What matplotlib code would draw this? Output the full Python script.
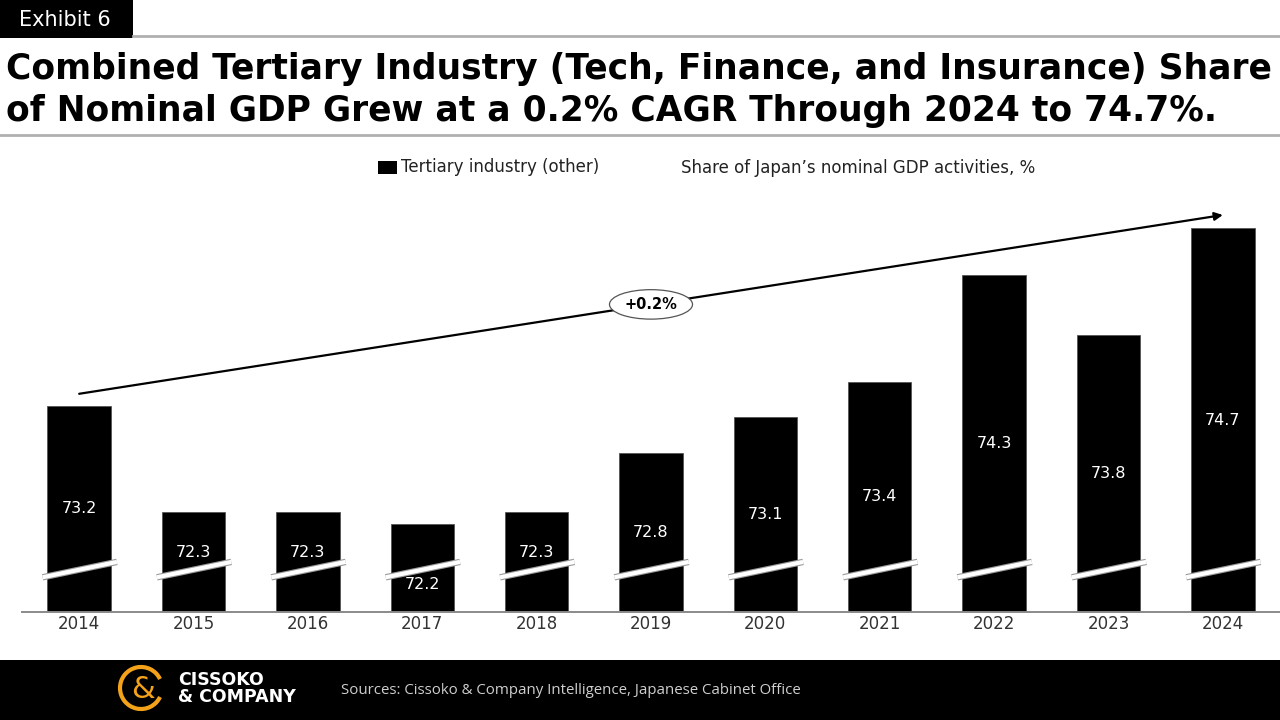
import matplotlib
matplotlib.use("Agg")
import matplotlib.pyplot as plt
from matplotlib.patches import Rectangle, Arc
from matplotlib.lines import Line2D

# ---- data -------------------------------------------------------------------
years = ["2014", "2015", "2016", "2017", "2018", "2019",
         "2020", "2021", "2022", "2023", "2024"]
share = [73.2, 72.3, 72.3, 72.2, 72.3, 72.8, 73.1, 73.4, 74.3, 73.8, 74.7]
cagr_label = "+0.2%"

title_lines = [
    "Combined Tertiary Industry (Tech, Finance, and Insurance) Share",
    "of Nominal GDP Grew at a 0.2% CAGR Through 2024 to 74.7%.",
]
legend_label = "Tertiary industry (other)"
unit_note = "Share of Japan\u2019s nominal GDP activities, %"
source_note = "Sources: Cissoko & Company Intelligence, Japanese Cabinet Office"

# ---- layout helpers ---------------------------------------------------------
W, H = 1280, 720
FONT = "DejaVu Sans"
Y_BOTTOM = 71.457          # axis is broken, baseline is not zero
BREAK_LO, BREAK_HI = 71.75, 71.88


def fx(x):
    return x / W


def fy(y):
    return 1 - y / H


fig = plt.figure(figsize=(W / 100, H / 100), dpi=100)
fig.patch.set_facecolor("white")

# ---- header -----------------------------------------------------------------
fig.add_artist(Rectangle((0, fy(38)), fx(133), 38 / H, transform=fig.transFigure,
                         facecolor="black", edgecolor="none"))
fig.text(fx(19), fy(20), "Exhibit 6", color="white", fontsize=15, family=FONT,
         va="center", ha="left")
fig.add_artist(Line2D([fx(133), 1], [fy(36), fy(36)], color="#b0b0b0", lw=2,
                      transform=fig.transFigure))
fig.add_artist(Line2D([0, 1], [fy(135), fy(135)], color="#b0b0b0", lw=2,
                      transform=fig.transFigure))

renderer = fig.canvas.get_renderer()
scale = 1.0
for line, base in zip(title_lines, [79, 121]):
    t = fig.text(fx(6), fy(base), line, fontsize=28, fontweight="bold",
                 family=FONT, va="baseline", ha="left", color="black")
    if line is title_lines[0]:
        scale = 1266 / t.get_window_extent(renderer).width
    t.set_fontsize(28 * scale)

# ---- legend row -------------------------------------------------------------
fig.add_artist(Rectangle((fx(378), fy(174)), fx(19), 13 / H,
                         transform=fig.transFigure, facecolor="black",
                         edgecolor="none"))
fig.text(fx(401), fy(167), legend_label, fontsize=12, family=FONT,
         va="center", ha="left", color="#222222")
fig.text(fx(681), fy(168), unit_note, fontsize=12, family=FONT,
         va="center", ha="left", color="#222222")

# ---- chart ------------------------------------------------------------------
ax = fig.add_axes([fx(22), fy(612), fx(1280 - 22), (612 - 200) / H])
x = list(range(len(years)))
ax.bar(x, [v - Y_BOTTOM for v in share], bottom=Y_BOTTOM, width=0.555,
       color="black", edgecolor="#555555", linewidth=0.6, zorder=2)
ax.set_xlim(-0.5, len(years) - 0.5)
ax.set_ylim(Y_BOTTOM, Y_BOTTOM + 412 / 118.4)

for s in ["top", "right", "left"]:
    ax.spines[s].set_visible(False)
ax.spines["bottom"].set_color("#8a8a8a")
ax.spines["bottom"].set_linewidth(1.4)
ax.set_yticks([])
ax.set_xticks(x)
ax.set_xticklabels(years, fontsize=12, family=FONT, color="#333333")
ax.tick_params(axis="x", length=0, pad=2)

# axis-break marks across each bar
for i in x:
    ax.plot([i - 0.32, i + 0.33], [BREAK_LO, BREAK_HI], color="#9a9a9a",
            lw=4.6, solid_capstyle="butt", zorder=3)
    ax.plot([i - 0.32, i + 0.33], [BREAK_LO, BREAK_HI], color="white",
            lw=3.0, solid_capstyle="butt", zorder=4)

# value labels (short bars are placed around the break)
label_y_override = {"2015": 71.96, "2016": 71.96, "2018": 71.96, "2017": 71.69}
for i, (yr, v) in enumerate(zip(years, share)):
    ly = label_y_override.get(yr, (Y_BOTTOM + v) / 2)
    ax.text(i, ly, f"{v:.1f}", color="white", fontsize=11.5, family=FONT,
            ha="center", va="center", zorder=5)

# CAGR arrow
y0, y1 = share[0] + 0.10, share[-1] + 0.11
ax.annotate("", xy=(len(years) - 1, y1), xytext=(0, y0),
            arrowprops=dict(arrowstyle="-|>", color="black", lw=1.6,
                            mutation_scale=12, shrinkA=0, shrinkB=0),
            annotation_clip=False, zorder=6)
mx, my = (len(years) - 1) / 2, (y0 + y1) / 2
ax.text(mx, my, cagr_label, fontsize=10.5, fontweight="bold", family=FONT,
        ha="center", va="center", zorder=8,
        bbox=dict(boxstyle="ellipse,pad=0.2", facecolor="white",
                  edgecolor="#555555", lw=0.9))

# ---- footer -----------------------------------------------------------------
fig.add_artist(Rectangle((0, 0), 1, 60 / H, transform=fig.transFigure,
                         facecolor="black", edgecolor="none"))
orange = "#F5A21B"
fig.add_artist(Arc((fx(141), fy(688)), 2 * 21 / W, 2 * 21 / H, theta1=40,
                   theta2=320, color=orange, lw=3, transform=fig.transFigure))
fig.text(fx(143), fy(689), "&", color=orange, fontsize=22, family=FONT,
         ha="center", va="center")
fig.text(fx(178), fy(680), "CISSOKO", color="white", fontsize=12.5,
         fontweight="bold", family=FONT, ha="left", va="center")
fig.text(fx(178), fy(697), "& COMPANY", color="white", fontsize=12.5,
         fontweight="bold", family=FONT, ha="left", va="center")
fig.text(fx(341), fy(690), source_note, color="#cfcfcf", fontsize=10.8,
         family=["Open Sans", FONT], ha="left", va="center")

fig.savefig("out.png", dpi=100, facecolor=fig.get_facecolor())
